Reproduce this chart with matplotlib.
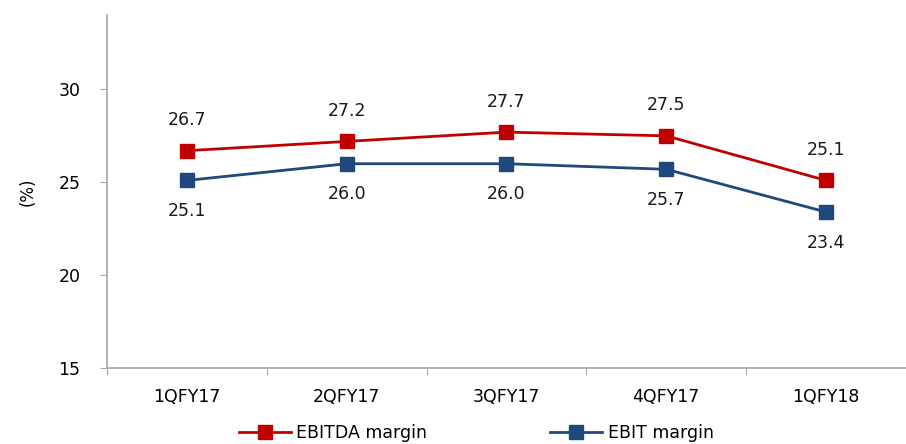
import matplotlib.pyplot as plt
from matplotlib.ticker import FixedLocator

quarters = ['1QFY17', '2QFY17', '3QFY17', '4QFY17', '1QFY18']
ebitda_margin = [26.7, 27.2, 27.7, 27.5, 25.1]
ebit_margin = [25.1, 26.0, 26.0, 25.7, 23.4]

plt.rcParams['font.family'] = ['DejaVu Sans']

fig = plt.figure(figsize=(9.06, 4.44), dpi=100)
ax = fig.add_axes([0.118, 0.171, 0.882, 0.795])

x = list(range(len(quarters)))
red = '#C00000'
blue = '#1F497D'

ax.plot(x, ebitda_margin, color=red, lw=2, marker='s', ms=10, label='EBITDA margin')
ax.plot(x, ebit_margin, color=blue, lw=2, marker='s', ms=10, label='EBIT margin')

for xi, v in zip(x, ebitda_margin):
    ax.annotate(f'{v:.1f}', (xi, v), xytext=(0, 22), textcoords='offset points',
                ha='center', va='center', fontsize=12.5, color='#1a1a1a')
for xi, v in zip(x, ebit_margin):
    ax.annotate(f'{v:.1f}', (xi, v), xytext=(0, -22), textcoords='offset points',
                ha='center', va='center', fontsize=12.5, color='#1a1a1a')

ax.set_xlim(-0.5, len(quarters) - 0.5)
ax.set_ylim(15, 34)
ax.set_yticks([15, 20, 25, 30])

# category labels at centres, tick marks at the boundaries
ax.xaxis.set_major_locator(FixedLocator([i - 0.5 for i in range(len(quarters))]))
ax.xaxis.set_minor_locator(FixedLocator(x))
ax.set_xticklabels([''] * len(quarters))
ax.set_xticklabels(quarters, minor=True)
ax.tick_params(axis='x', which='minor', length=0, pad=14, labelsize=12.5)
ax.tick_params(axis='x', which='major', length=5, color='#a6a6a6', direction='out')
ax.tick_params(axis='y', length=5, color='#a6a6a6', labelsize=12.5, pad=14)

for s in ['top', 'right']:
    ax.spines[s].set_visible(False)
for s in ['left', 'bottom']:
    ax.spines[s].set_color('#a6a6a6')
    ax.spines[s].set_linewidth(1.2)

ax.set_ylabel('(%)', fontsize=12, labelpad=16)

ax.legend(loc='upper center', bbox_to_anchor=(0.462, -0.115), ncol=2, frameon=False,
          fontsize=12.5, columnspacing=7.1, handlelength=3, handletextpad=0.3)

fig.savefig('out.png', dpi=100)
